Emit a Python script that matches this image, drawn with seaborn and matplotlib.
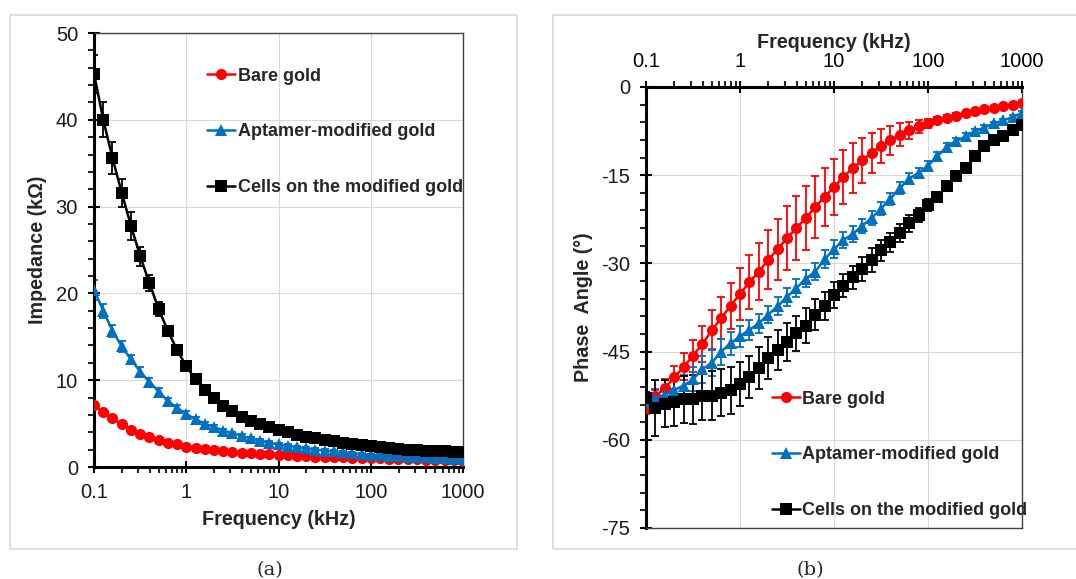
import numpy as np
import pandas as pd
import matplotlib
matplotlib.use("Agg")
import matplotlib.pyplot as plt
import matplotlib.ticker as mticker
from matplotlib.patches import Rectangle
import seaborn as sns

# frequency points (kHz), 10 per decade
freq = [0.1, 0.1259, 0.1585, 0.1995, 0.2512, 0.3162, 0.3981, 0.5012, 0.631, 0.7943,
        1, 1.259, 1.585, 1.995, 2.512, 3.162, 3.981, 5.012, 6.31, 7.943,
        10, 12.59, 15.85, 19.95, 25.12, 31.62, 39.81, 50.12, 63.1, 79.43,
        100, 125.9, 158.5, 199.5, 251.2, 316.2, 398.1, 501.2, 631, 794.3, 1000]

series = ["Bare gold", "Aptamer-modified gold", "Cells on the modified gold"]

# impedance (kOhm)
z_bare = [7.2, 6.3, 5.6, 4.9, 4.3, 3.8, 3.5, 3.1, 2.8, 2.6,
          2.35, 2.2, 2.05, 1.95, 1.85, 1.75, 1.65, 1.6, 1.5, 1.45,
          1.4, 1.35, 1.3, 1.25, 1.2, 1.17, 1.14, 1.11, 1.08, 1.05,
          1.02, 0.99, 0.96, 0.93, 0.9, 0.88, 0.85, 0.83, 0.8, 0.78, 0.75]
z_apt = [20.4, 18.0, 15.7, 13.9, 12.4, 11.0, 9.8, 8.7, 7.6, 6.8,
         6.1, 5.5, 5.0, 4.6, 4.2, 3.9, 3.6, 3.3, 3.05, 2.8,
         2.6, 2.45, 2.3, 2.15, 2.0, 1.9, 1.8, 1.7, 1.6, 1.5,
         1.4, 1.35, 1.3, 1.25, 1.2, 1.15, 1.1, 1.05, 1.0, 0.95, 0.9]
z_cells = [45.3, 40.0, 35.6, 31.6, 27.8, 24.3, 21.2, 18.2, 15.7, 13.5,
           11.6, 10.1, 8.9, 7.9, 7.0, 6.4, 5.8, 5.3, 4.9, 4.6,
           4.3, 4.0, 3.7, 3.5, 3.3, 3.1, 2.95, 2.8, 2.65, 2.5,
           2.4, 2.3, 2.2, 2.1, 2.0, 1.95, 1.9, 1.85, 1.8, 1.75, 1.7]
z_bare_err = [0.2] * 41
z_apt_err = [1.2, 0.8, 0.7, 0.6, 0.55, 0.5, 0.45, 0.4, 0.35, 0.3,
             0.3, 0.25, 0.2, 0.2, 0.2, 0.15, 0.15, 0.15, 0.15, 0.15,
             0.15, 0.15, 0.15, 0.15, 0.15, 0.15, 0.15, 0.15, 0.15, 0.15,
             0.15, 0.15, 0.15, 0.15, 0.15, 0.15, 0.15, 0.15, 0.15, 0.15, 0.15]
z_cells_err = [2.2, 2.0, 1.9, 1.6, 1.6, 1.1, 0.9, 0.8, 0.6, 0.5,
               0.4, 0.35, 0.3, 0.3, 0.25, 0.2, 0.2, 0.2, 0.2, 0.2,
               0.15, 0.15, 0.15, 0.15, 0.15, 0.15, 0.15, 0.15, 0.15, 0.15,
               0.15, 0.15, 0.15, 0.15, 0.15, 0.15, 0.15, 0.15, 0.15, 0.15, 0.15]

# phase angle (degrees)
p_bare = [-54.6, -52.6, -51.2, -49.4, -47.6, -45.7, -43.7, -41.4, -39.3, -37.2,
          -35.2, -33.2, -31.4, -29.4, -27.6, -25.7, -24.0, -22.3, -20.4, -18.7,
          -17.0, -15.3, -13.8, -12.5, -11.2, -10.0, -9.1, -8.1, -7.4, -6.7,
          -6.2, -5.7, -5.3, -4.9, -4.5, -4.1, -3.8, -3.6, -3.3, -3.1, -2.8]
p_apt = [-53.5, -53.0, -52.3, -51.5, -50.8, -49.7, -48.0, -46.9, -45.0, -43.6,
         -42.4, -41.3, -40.2, -38.7, -37.3, -35.7, -34.2, -32.6, -31.4, -29.3,
         -27.6, -26.0, -25.0, -23.6, -22.3, -20.7, -19.0, -17.2, -15.6, -14.6,
         -13.4, -11.8, -10.2, -9.2, -8.4, -7.5, -6.9, -6.2, -5.7, -5.1, -4.4]
p_cells = [-52.9, -54.6, -53.9, -53.6, -53.1, -53.1, -52.5, -52.5, -52.0, -51.6,
           -50.5, -49.3, -47.8, -46.1, -44.8, -43.4, -41.9, -40.6, -38.7, -37.2,
           -35.4, -33.8, -32.4, -31.0, -29.4, -27.8, -26.4, -24.8, -23.2, -21.7,
           -20.1, -18.7, -16.9, -15.2, -13.8, -11.8, -10.1, -9.1, -8.3, -7.3, -6.4]
p_bare_err = [1.0, 1.2, 1.5, 2.0, 2.3, 2.7, 3.1, 3.4, 3.6, 3.9,
              4.4, 4.6, 4.9, 5.0, 5.2, 5.4, 5.5, 5.5, 5.3, 5.0,
              4.8, 4.6, 4.2, 3.8, 3.4, 2.9, 2.4, 1.9, 1.4, 1.1,
              0.8, 0.6, 0.5, 0.4, 0.3, 0.3, 0.3, 0.3, 0.3, 0.3, 0.3]
p_apt_err = [1.0, 1.5, 1.5, 1.5, 1.8, 2.0, 2.3, 2.3, 2.2, 2.0,
             1.8, 1.7, 1.6, 1.5, 1.5, 1.5, 1.5, 1.5, 1.5, 1.5,
             1.5, 1.4, 1.3, 1.2, 1.2, 1.1, 1.0, 1.0, 0.9, 0.9,
             0.8, 0.7, 0.6, 0.5, 0.5, 0.4, 0.4, 0.3, 0.3, 0.3, 0.3]
p_cells_err = [1.0, 4.8, 4.0, 4.0, 4.0, 4.2, 4.2, 4.2, 4.0, 4.0,
               3.8, 3.6, 3.6, 3.6, 3.4, 3.2, 3.0, 3.0, 2.6, 2.4,
               2.2, 2.0, 2.0, 2.0, 2.0, 1.8, 1.6, 1.5, 1.4, 1.2,
               1.0, 0.9, 0.8, 0.6, 0.5, 0.4, 0.3, 0.3, 0.3, 0.3, 0.3]

colors = {"Bare gold": "#FF0000", "Aptamer-modified gold": "#0070C0",
          "Cells on the modified gold": "#000000"}
markers = {"Bare gold": "o", "Aptamer-modified gold": "^",
           "Cells on the modified gold": "s"}

n = len(freq)
df = pd.DataFrame({
    "freq": freq * 3,
    "series": [s for s in series for _ in range(n)],
    "Z": z_bare + z_apt + z_cells,
    "Zerr": z_bare_err + z_apt_err + z_cells_err,
    "P": p_bare + p_apt + p_cells,
    "Perr": p_bare_err + p_apt_err + p_cells_err,
})

sns.set_style("white")
plt.rcParams["font.family"] = ["Liberation Sans", "DejaVu Sans"]
plt.rcParams["axes.unicode_minus"] = False

fig = plt.figure(figsize=(10.76, 5.79), dpi=100)

# grey panel frames
for x0, w in [(0.0093, 0.4712), (0.514, 0.49)]:
    fig.patches.append(Rectangle((x0, 0.0518), w, 0.9223, transform=fig.transFigure,
                                 fill=False, edgecolor="#D9D9D9", linewidth=1.2))

ax1 = fig.add_axes([0.0874, 0.1934, 0.3429, 0.7496])
ax2 = fig.add_axes([0.6004, 0.0881, 0.3494, 0.7617])

tick_fs = 14.5
lab_fs = 14.2
leg_fs = 13


def draw(ax, ycol, ecol):
    for s in series:
        d = df[df["series"] == s]
        ax.errorbar(d["freq"], d[ycol], yerr=d[ecol], fmt="none", ecolor=colors[s],
                    elinewidth=1.3, capsize=3, capthick=1.3, zorder=2)
    sns.lineplot(data=df, x="freq", y=ycol, hue="series", style="series",
                 palette=colors, markers=markers, dashes=False, ax=ax,
                 markersize=8, markeredgewidth=0, linewidth=1.8, zorder=3)
    ax.set_xscale("log")
    ax.set_xlim(0.1, 1000)
    ax.xaxis.set_major_locator(mticker.LogLocator(base=10))
    ax.xaxis.set_major_formatter(mticker.FuncFormatter(lambda v, p: f"{v:g}"))
    ax.xaxis.set_minor_locator(mticker.LogLocator(base=10, subs=np.arange(2, 10)))
    ax.xaxis.set_minor_formatter(mticker.NullFormatter())
    ax.grid(True, which="major", color="#D9D9D9", linewidth=0.8)
    ax.set_axisbelow(True)
    ax.tick_params(which="major", direction="inout", length=9, width=1.5,
                   labelsize=tick_fs, colors="black", pad=7)
    ax.tick_params(which="minor", direction="out", length=4, width=1.5)
    for sp in ax.spines.values():
        sp.set_color("#404040")
        sp.set_linewidth(1.0)
    for lab in ax.get_xticklabels() + ax.get_yticklabels():
        lab.set_color("#1A1A1A")


# (a) impedance
draw(ax1, "Z", "Zerr")
ax1.set_ylim(0, 50)
ax1.yaxis.set_major_locator(mticker.MultipleLocator(10))
ax1.yaxis.set_minor_locator(mticker.MultipleLocator(2))
ax1.spines["left"].set_color("black")
ax1.spines["left"].set_linewidth(2.2)
ax1.spines["bottom"].set_color("black")
ax1.spines["bottom"].set_linewidth(2.2)
ax1.tick_params(axis="x", which="both", bottom=True)
ax1.tick_params(axis="y", which="both", left=True)
ax1.set_xlabel("Frequency (kHz)", fontsize=lab_fs, fontweight="bold", labelpad=6)
ax1.set_ylabel("Impedance (kΩ)", fontsize=lab_fs, fontweight="bold", labelpad=6)
ax1.legend(loc="upper left", bbox_to_anchor=(0.287, 0.937), frameon=False,
           prop={"weight": "bold", "size": leg_fs},
           handlelength=1.55, handletextpad=0.15, labelspacing=2.15,
           borderaxespad=0)

# (b) phase angle
draw(ax2, "P", "Perr")
ax2.set_ylim(-75, 0)
ax2.yaxis.set_major_locator(mticker.MultipleLocator(15))
ax2.yaxis.set_minor_locator(mticker.MultipleLocator(3))
ax2.xaxis.set_ticks_position("top")
ax2.xaxis.set_label_position("top")
ax2.spines["left"].set_color("black")
ax2.spines["left"].set_linewidth(2.2)
ax2.spines["top"].set_color("black")
ax2.spines["top"].set_linewidth(2.2)
ax2.tick_params(axis="x", which="both", top=True, bottom=False)
ax2.tick_params(axis="y", which="both", left=True)
ax2.set_xlabel("Frequency (kHz)", fontsize=lab_fs, fontweight="bold", labelpad=3)
ax2.set_ylabel("Phase  Angle (°)", fontsize=lab_fs, fontweight="bold", labelpad=6)
ax2.legend(loc="upper left", bbox_to_anchor=(0.315, 0.328), frameon=False,
           prop={"weight": "bold", "size": leg_fs},
           handlelength=1.55, handletextpad=0.15, labelspacing=2.15,
           borderaxespad=0)

fig.text(0.251, 0.006, "(a)", fontsize=14, family="DejaVu Serif", ha="center")
fig.text(0.753, 0.006, "(b)", fontsize=14, family="DejaVu Serif", ha="center")

fig.savefig("out.png", dpi=100)
